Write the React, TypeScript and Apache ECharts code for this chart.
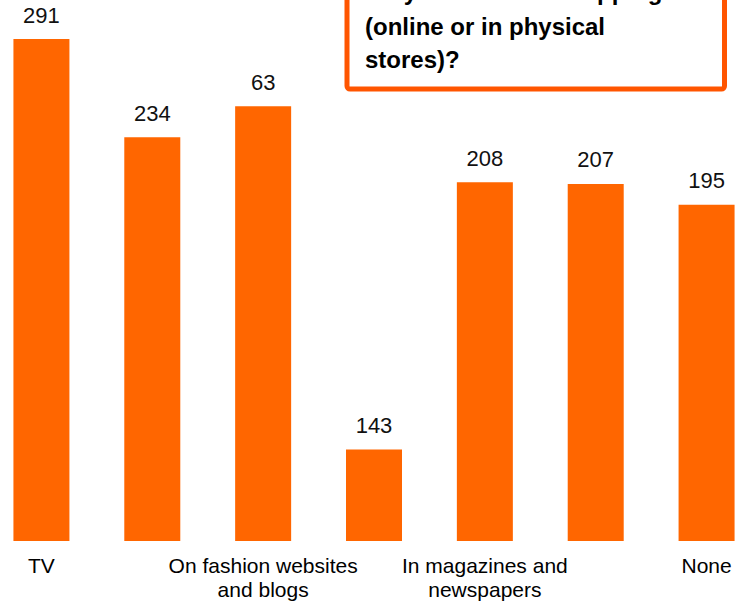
import React, { useEffect, useRef } from "react";
import * as echarts from "echarts";

const categories = [
  "TV",
  "On social media",
  "On fashion websites\nand blogs",
  "In shop windows",
  "In magazines and\nnewspapers",
  "From friends and family",
  "None",
];
const barValues = [291, 234, 252, 53, 208, 207, 195];
const barLabels = ["291", "234", "63", "143", "208", "207", "195"];
const titleLines = ["for your fashion shopping", "(online or in physical", "stores)?"];

const FONT = "'Liberation Sans', Arial, Helvetica, sans-serif";
const OFFSET = 14;

export default function App() {
  const ref = useRef<HTMLDivElement>(null);
  useEffect(() => {
    if (!ref.current) return;
    const chart = echarts.init(ref.current, undefined, { renderer: "svg" });
    chart.setOption({
      animation: false,
      backgroundColor: "#ffffff",
      grid: { left: 0, right: 0, top: 23.5, bottom: 62, containLabel: false },
      xAxis: {
        type: "category",
        data: categories,
        axisLine: { show: false },
        axisTick: { show: false },
        axisLabel: {
          interval: 1,
          fontFamily: FONT,
          fontSize: 21,
          lineHeight: 24,
          color: "#000000",
          margin: 12.5,
        },
      },
      yAxis: {
        type: "value",
        min: 0,
        max: 300,
        show: false,
        splitLine: { show: false },
      },
      series: [
        {
          type: "bar",
          data: barValues,
          barWidth: 56,
          itemStyle: { color: "#FF6600" },
          label: {
            show: true,
            position: "top",
            distance: 13,
            fontFamily: FONT,
            fontSize: 22,
            color: "#111111",
            formatter: (p: any) => barLabels[p.dataIndex],
          },
        },
      ],
      graphic: [
        {
          type: "rect",
          shape: { x: 347 + OFFSET, y: -30, width: 377.5, height: 119, r: 3 },
          style: { fill: "#ffffff", stroke: "#FF5500", lineWidth: 5 },
          z: 10,
        },
        ...titleLines.map((t, i) => ({
          type: "text",
          x: 365 + OFFSET,
          y: -7.5 + i * 33.5 + (i === 0 ? -1.5 : 0),
          z: 11,
          style: {
            text: t,
            fontFamily: FONT,
            fontSize: 24,
            fontWeight: "bold",
            fill: "#000000",
            verticalAlign: "middle",
            align: "left",
          },
        })),
      ],
    });
    return () => chart.dispose();
  }, []);
  return (
    <div
      style={{
        position: "fixed",
        left: 0,
        top: 0,
        width: 745,
        height: 603,
        overflow: "hidden",
        background: "#ffffff",
      }}
    >
      <div
        ref={ref}
        style={{ position: "absolute", left: -OFFSET, top: 0, width: 776, height: 603 }}
      />
    </div>
  );
}
